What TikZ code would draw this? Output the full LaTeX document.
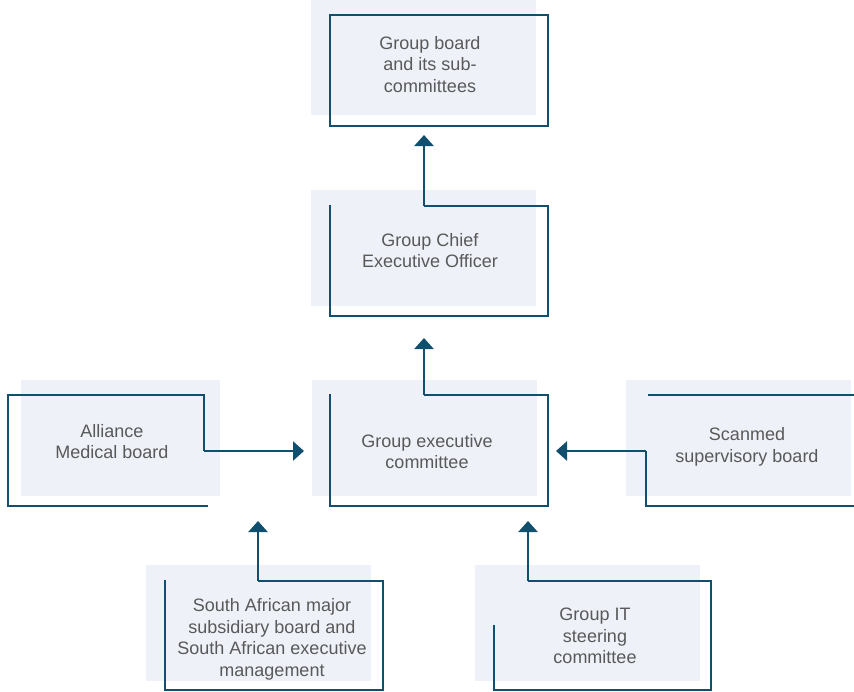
\documentclass[tikz,border=0pt]{standalone}
\usepackage{fontspec}
\setmainfont{Liberation Sans}
\usetikzlibrary{arrows.meta}
\definecolor{teal}{HTML}{10506E}
\definecolor{pale}{HTML}{EEF1F8}
\definecolor{txt}{HTML}{595959}
\begin{document}
\begin{tikzpicture}[x=1pt,y=-1pt,
  panel/.style={fill=pale},
  frame/.style={draw=teal,line width=2.6pt,line join=miter},
  link/.style={draw=teal,line width=2.6pt,-{Triangle[width=19pt,length=11pt]}},
  label/.style={text=txt,align=center,font=\fontsize{18}{21.5}\selectfont,inner sep=0pt}]
\useasboundingbox (0,0) rectangle (854,691);
% panels
\path[panel] (311,0) rectangle (536,115);
\path[panel] (311,190) rectangle (536,306);
\path[panel] (312,380) rectangle (537,496);
\path[panel] (21,380) rectangle (220,496);
\path[panel] (626,380) rectangle (851,496);
\path[panel] (146,565) rectangle (371,681);
\path[panel] (475,565) rectangle (700,681);
% labels
\node[label] (gb) at (430,64.5) {Group board\\and its sub-\\committees};
\node[label] (ceo) at (430,250.5) {Group Chief\\Executive Officer};
\node[label] (gec) at (427,451.5) {Group executive\\committee};
\node[label] (amb) at (112,441.5) {Alliance\\Medical board};
\node[label] (scan) at (747,447) {Scanmed\\supervisory board};
\node[label] (sa) at (272,639.5) {South African major\\subsidiary board and\\South African executive\\management};
\node[label] (it) at (595,636) {Group IT\\steering\\committee};
% anchor coordinates
\coordinate (gbIn) at (424,135);
\coordinate (gecUp) at (424,338);
\coordinate (gecL) at (304,451);
\coordinate (gecR) at (556,451);
\coordinate (gecDL) at (258,521);
\coordinate (gecDR) at (528,521);
% frames
\draw[frame] (330,15) rectangle (548,126);
\draw[frame] (330,205) -- (330,316) -- (548,316) -- (548,206) -- (424,206);
\draw[link] (424,206) -- (gbIn);
\draw[frame] (330,394) -- (330,506) -- (548,506) -- (548,395) -- (424,395);
\draw[link] (424,395) -- (gecUp);
\draw[frame] (208,506) -- (8,506) -- (8,395) -- (204,395) -- (204,451);
\draw[link] (204,451) -- (gecL);
\draw[frame] (648,395) -- (856,395);
\draw[frame] (856,506) -- (646,506) -- (646,451);
\draw[link] (646,451) -- (gecR);
\draw[frame] (165,580) -- (165,690) -- (383,690) -- (383,581) -- (258,581);
\draw[link] (258,581) -- (gecDL);
\draw[frame] (494,625) -- (494,690) -- (711,690) -- (711,581) -- (528,581);
\draw[link] (528,581) -- (gecDR);
\end{tikzpicture}
\end{document}
